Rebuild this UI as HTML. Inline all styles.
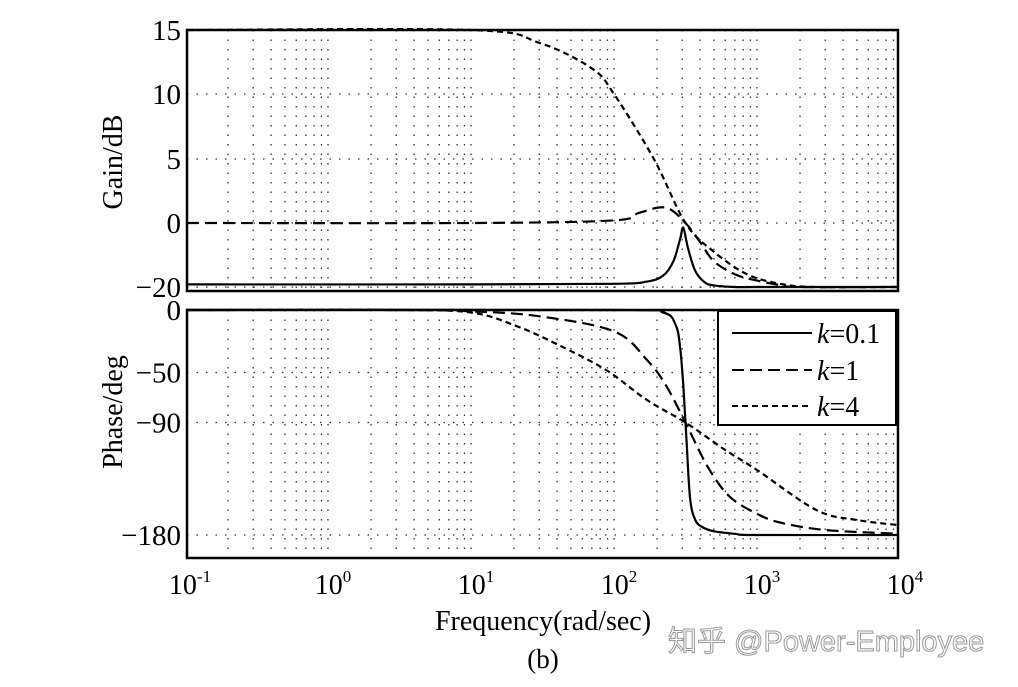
<!DOCTYPE html>
<html><head><meta charset="utf-8"><style>
body{margin:0;background:#fff;}
svg{display:block;font-family:"Liberation Serif",serif;}
</style></head><body>
<svg id="chart" width="1018" height="687" viewBox="0 0 1018 687" xmlns="http://www.w3.org/2000/svg">
<g id="grid"></g>
<g id="series"></g>
<g id="axes"></g>
<text x="122" y="162" font-size="28" text-anchor="middle" transform="rotate(-90 122 162)">Gain/dB</text>
<text x="122" y="412" font-size="28" text-anchor="middle" transform="rotate(-90 122 412)">Phase/deg</text>
<text x="543" y="630" font-size="28" text-anchor="middle">Frequency(rad/sec)</text>
<text x="543" y="668" font-size="27" text-anchor="middle">(b)</text>
<text x="668" y="651" font-size="29" fill="#fff" stroke="#9a9a9a" stroke-width="1" font-family="'Liberation Sans','Noto Sans CJK SC',sans-serif">知乎 @Power-Employee</text>
<g>
<rect x="718" y="311" width="178" height="114" fill="#fff" stroke="#000" stroke-width="2"/>
<line x1="732" y1="333" x2="812" y2="333" stroke="#000" stroke-width="2"/>
<text x="817" y="343" font-size="28"><tspan font-style="italic">k</tspan>=0.1</text>
<line x1="732" y1="370" x2="812" y2="370" stroke="#000" stroke-width="2" stroke-dasharray="12,6"/>
<text x="817" y="380" font-size="28"><tspan font-style="italic">k</tspan>=1</text>
<line x1="732" y1="406" x2="812" y2="406" stroke="#000" stroke-width="2" stroke-dasharray="6,4"/>
<text x="817" y="416" font-size="28"><tspan font-style="italic">k</tspan>=4</text>
</g>
</svg>
<script>
const decadeExps=[-1,0,1,2,3,4];
const gainTicks=[15,10,5,0,-20];
const phaseTicks=[0,-50,-90,-180];
const freqK01=[0.1,10,100,170,220,260,290,305,330,370,430,500,700,1000,10000];
const gainK01=[-19.2,-19.2,-19,-18.3,-16.5,-12,-5,-1.5,-8,-15,-18.5,-19.5,-20,-20,-20];
const freqK1=[0.1,10,100,150,230,316,400,500,700,1000,1500,2000,10000];
const gainK1=[0,0,0.2,0.8,1.2,0,-6,-12,-16,-18,-19.5,-20,-20];
const freqK4=[0.1,10,30,70,100,190,316,500,850,1450,2500,10000];
const gainK4=[15,15,14,12,10,5,0,-9,-16,-19,-20,-20];
const pfreqK01=[0.1,100,220,270,290,305,320,340,370,420,500,700,1000,10000];
const phaseK01=[0,0,-2,-12,-30,-60,-100,-150,-168,-174,-177,-179,-180,-180];
const pfreqK1=[0.1,3,10,30,100,170,230,316,450,640,1000,1450,3000,10000];
const phaseK1=[0,0,-1,-5,-17,-40,-60,-90,-125,-149,-163,-170,-176,-179];
const pfreqK4=[0.1,3,10,21,41,88,170,316,600,1000,2600,5000,10000];
const phaseK4=[0,0,-2,-13,-28,-48,-72,-90,-112,-128,-160,-168,-172];

const NS="http://www.w3.org/2000/svg";
const X0=185,DEC=143,L=187,R=898;
const T1=30,B1=291,T2=310,B2=558;
function xs(f){return X0+(Math.log10(f)+1)*DEC;}
const gainPos=[30,94,159,223,287];
function yg(v){
 for(let i=0;i<gainTicks.length-1;i++){const a=gainTicks[i],b=gainTicks[i+1];
  if(v<=a&&v>=b)return gainPos[i]+(a-v)/(a-b)*(gainPos[i+1]-gainPos[i]);}
 return v>15?30:287+(-20-v)*3.2;
}
function yp(v){return 310-v*1.25;}
function mk(tag,attrs,parent){const e=document.createElementNS(NS,tag);for(const k in attrs)e.setAttribute(k,attrs[k]);parent.appendChild(e);return e;}
const grid=document.getElementById('grid'),axes=document.getElementById('axes'),series=document.getElementById('series');
decadeExps.forEach(d=>{for(let m=1;m<10;m++){const f=m*Math.pow(10,d);const x=xs(f);if(x<=L+1||x>=R-1)continue;
 [[T1,B1],[T2,B2]].forEach(([t,b])=>{const l=mk('line',{x1:x,y1:t,x2:x,y2:b,stroke:'#333','stroke-width':1.3,'stroke-dasharray':'1.5,8'},grid);
 
 });}});
gainTicks.forEach(v=>{const y=yg(v);if(y<=T1+1||y>=B1-3)return;const l=mk('line',{x1:L,y1:y,x2:R,y2:y,stroke:'#333','stroke-width':1.3,'stroke-dasharray':'1.5,8'},grid);
 
 });
phaseTicks.forEach(v=>{const y=yp(v);if(y<=T2+1)return;const l=mk('line',{x1:L,y1:y,x2:R,y2:y,stroke:'#333','stroke-width':1.3,'stroke-dasharray':'1.5,8'},grid);
 
 });
[[T1,B1,'gain-plot-frame'],[T2,B2,'phase-plot-frame']].forEach(([t,b,n])=>{const r=mk('rect',{x:L,y:t,width:R-L,height:b-t,fill:'none',stroke:'#000','stroke-width':2.5},axes);
 
 });
gainTicks.forEach(v=>{const t=mk('text',{x:L-6,y:yg(v)+10,'font-size':29,'text-anchor':'end'},axes);t.textContent=v<0?'\u2212'+(-v):v;
 
 });
phaseTicks.forEach(v=>{const t=mk('text',{x:L-6,y:yp(v)+10,'font-size':29,'text-anchor':'end'},axes);t.textContent=v<0?'\u2212'+(-v):v;
 
 });
decadeExps.forEach(d=>{const t=mk('text',{x:xs(Math.pow(10,d))+5,y:594,'font-size':28,'text-anchor':'middle'},axes);
 t.innerHTML='10<tspan font-size="17" dy="-12">'+(d<0?'-'+(-d):d)+'</tspan>';
 
 });
function line(fr,vals,yfn,dash,name){
 const P=fr.map((f,i)=>[Math.max(L,Math.min(R,xs(f))),yfn(vals[i])]);
 let d='M'+P[0][0].toFixed(1)+','+P[0][1].toFixed(1);
 for(let i=0;i<P.length-1;i++){const p0=P[Math.max(0,i-1)],p1=P[i],p2=P[i+1],p3=P[Math.min(P.length-1,i+2)];
  const c1=[p1[0]+(p2[0]-p0[0])/6,p1[1]+(p2[1]-p0[1])/6],c2=[p2[0]-(p3[0]-p1[0])/6,p2[1]-(p3[1]-p1[1])/6];
  d+='C'+c1.map(v=>v.toFixed(1)).join(',')+' '+c2.map(v=>v.toFixed(1)).join(',')+' '+p2.map(v=>v.toFixed(1)).join(',');}
 const p=mk('path',{d:d,fill:'none',stroke:'#000','stroke-width':2.2,'stroke-dasharray':dash,'stroke-linejoin':'round'},series);
 
 }
line(freqK01,gainK01,yg,'none','gain-k01');
line(freqK1,gainK1,yg,'12,6','gain-k1');
line(freqK4,gainK4,yg,'6,4','gain-k4');
line(pfreqK01,phaseK01,yp,'none','phase-k01');
line(pfreqK1,phaseK1,yp,'12,6','phase-k1');
line(pfreqK4,phaseK4,yp,'6,4','phase-k4');
</script>
</body></html>
